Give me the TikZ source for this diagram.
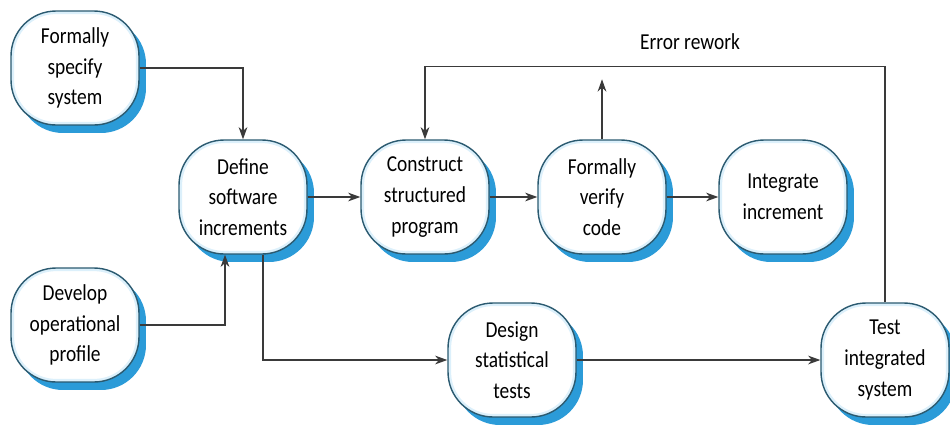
\documentclass[tikz,border=0pt]{standalone}
\usepackage{fontspec}
\newfontfamily\boxfont{Carlito}[FakeStretch=0.85]
\usepackage{tikz}
\usetikzlibrary{arrows.meta, positioning, calc, shadows}
\definecolor{edgeteal}{HTML}{2b5a70}
\definecolor{shadowblue}{HTML}{2b9bd8}
\definecolor{glowblue}{HTML}{dcf0fb}
\definecolor{linegray}{HTML}{3a3a3a}
\tikzset{
  activity/.style={draw=edgeteal, line width=0.8pt, fill=white,
    rounded corners=0.9cm, minimum width=2.56cm, minimum height=2.28cm,
    align=center, inner sep=2pt,
    font=\boxfont\fontsize{13}{17.5}\selectfont,
    drop shadow={shadow xshift=0.14cm, shadow yshift=-0.16cm, fill=shadowblue, opacity=1},
    path picture={\draw[glowblue, line width=3.5pt, rounded corners=0.9cm]
      (path picture bounding box.south west) rectangle (path picture bounding box.north east);}},
  flow/.style={draw=linegray, line width=0.6pt, -{Stealth[length=7pt, width=5pt]}}
}

\begin{document}
\begin{tikzpicture}[x=0.02cm, y=-0.02cm]
    \useasboundingbox (0,0) rectangle (950,427);
    % activities
    \node[activity] (spec) at (75,68)  {Formally\\specify\\system};
    \node[activity] (prof) at (75,325) {Develop\\operational\\profile};
    \node[activity] (incr) at (243,197) {Define\\software\\increments};
    \node[activity] (cons) at (425,197) {Construct\\structured\\program};
    \node[activity] (verf) at (602,197) {Formally\\verify\\code};
    \node[activity] (intg) at (783,197) {Integrate\\increment};
    \node[activity] (stat) at (512,360) {Design\\statistical\\tests};
    \node[activity] (test) at (885,360) {Test\\integrated\\system};
    \node[font=\boxfont\fontsize{13}{15}\selectfont] (errlbl) at (690,42) {Error rework};
    % flows
    \draw[flow] (spec.east) -| (incr.north);
    \draw[flow] (prof.east) -| ($(incr.south)+(-18,0)$);
    \draw[flow] ($(incr.south)+(20,0)$) |- (stat.west);
    \draw[flow] (incr.east) -- (cons.west);
    \draw[flow] (cons.east) -- (verf.west);
    \draw[flow] (verf.east) -- (intg.west);
    \draw[flow] (stat.east) -- (test.west);
    \coordinate (vtip) at ($(verf.north)+(0,-60)$);
    \draw[flow] (verf.north) -- (vtip);
    \draw[flow] (test.north) |- ($(cons.north)+(0,-73)$) -- (cons.north);
  \end{tikzpicture}
\end{document}
